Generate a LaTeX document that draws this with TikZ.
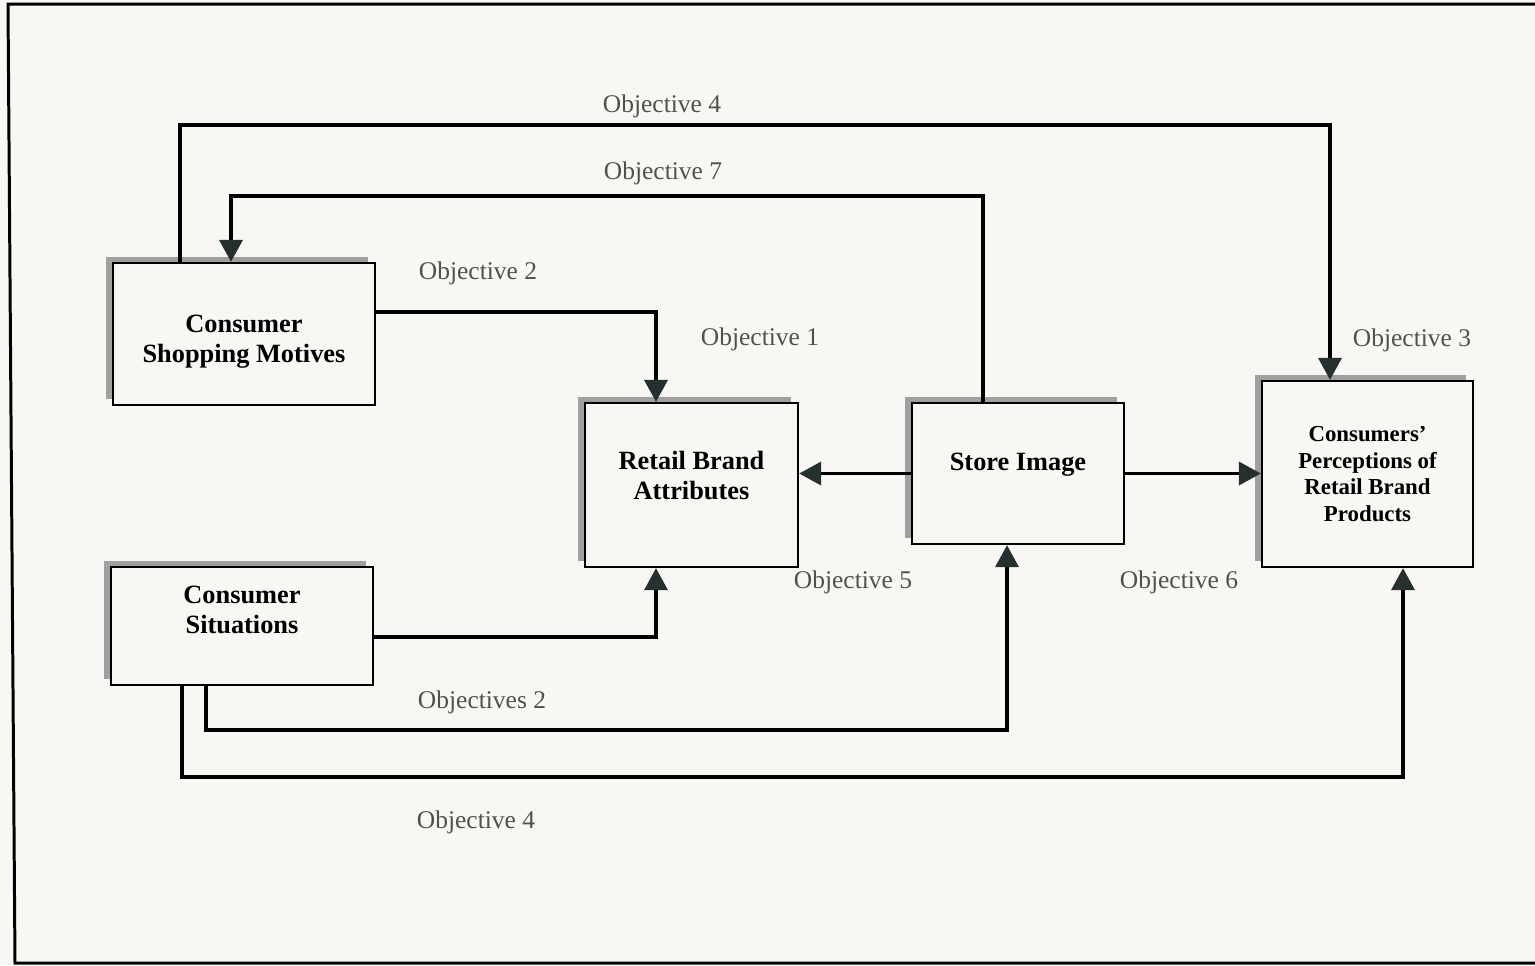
\documentclass[tikz,border=0pt]{standalone}
\usepackage{fontspec}
\setmainfont{Liberation Serif}
\usepackage{tikz}
\usetikzlibrary{arrows.meta,shadows,calc}
\definecolor{paper}{HTML}{F8F7F3}
\definecolor{tipgray}{HTML}{26302F}
\definecolor{shade}{HTML}{A0A0A0}
\definecolor{lblgray}{HTML}{505050}

\begin{document}
\begin{tikzpicture}[
  x=0.02cm, y=-0.02cm,
  font=\fontsize{15pt}{17pt}\selectfont\bfseries,
  >={Triangle[length=4.4mm,width=4.6mm,color=tipgray]},
  box/.style={draw, line width=1.3pt, fill=paper, align=center, inner sep=0pt,
              drop shadow={shadow xshift=-0.14cm, shadow yshift=0.12cm,
                           fill=shade, opacity=1}},
  arr/.style={->, line width=2pt},
  lbl/.style={font=\fontsize{14.5pt}{17pt}\selectfont, text=lblgray},
]
\fill[paper] (0,0) rectangle (1535,965);
\useasboundingbox (0,0) rectangle (1535,965);
\draw[line width=1.7pt] (1560,4) -- (8,4) -- (15,963) -- (1560,963);

\node[box, minimum width=5.24cm, minimum height=2.84cm, text height=35pt, text depth=3pt] (csm) at (244,334)
  {Consumer\\Shopping Motives};
\node[box, minimum width=5.24cm, minimum height=2.36cm, text depth=18pt] (cs) at (242,626)
  {Consumer\\Situations};
\node[box, minimum width=4.26cm, minimum height=3.28cm, text depth=11pt] (rba) at (691.5,485)
  {Retail Brand\\Attributes};
\node[box, minimum width=4.24cm, minimum height=2.82cm, text height=10pt, text depth=14pt] (si) at (1018,473.5)
  {Store Image};
\node[box, minimum width=4.22cm, minimum height=3.72cm,
      font=\fontsize{13pt}{15.3pt}\selectfont\bfseries] (cp) at (1367.5,474)
  {Consumers’\\Perceptions of\\Retail Brand\\Products};

\coordinate (o4a) at (180,125);  \coordinate (o4b) at (1330,125);
\coordinate (o7a) at (983,196);  \coordinate (o7b) at (231,196);
\coordinate (o2a) at (656,312);
\coordinate (s1)  at (656,637);
\coordinate (s2a) at (206,730);  \coordinate (s2b) at (1007,730);
\coordinate (s4a) at (182,777);  \coordinate (s4b) at (1403,777);

\draw[arr] (csm.north -| o4a) -- (o4a) -- (o4b) -- (cp.north -| o4b);
\draw[arr] (si.north -| o7a) -- (o7a) -- (o7b) -- (csm.north -| o7b);
\draw[arr] (csm.east |- o2a) -- (o2a) -- (rba.north -| o2a);
\draw[arr] (si.west) -- (si.west -| rba.east);
\draw[arr] (si.east) -- (si.east -| cp.west);
\draw[arr] (cs.east |- s1) -- (s1) -- (rba.south -| s1);
\draw[arr] (cs.south -| s2a) -- (s2a) -- (s2b) -- (si.south -| s2b);
\draw[arr] (cs.south -| s4a) -- (s4a) -- (s4b) -- (cp.south -| s4b);

\node[lbl] (obj4a) at (662,106) {Objective 4};
\node[lbl] (obj7)  at (663,173) {Objective 7};
\node[lbl] (obj2a) at (478,273) {Objective 2};
\node[lbl] (obj1)  at (760,339) {Objective 1};
\node[lbl] (obj3)  at (1412,340) {Objective 3};
\node[lbl] (obj5)  at (853,582) {Objective 5};
\node[lbl] (obj6)  at (1179,582) {Objective 6};
\node[lbl] (obj2b) at (482,702) {Objectives 2};
\node[lbl] (obj4b) at (476,822) {Objective 4};
\end{tikzpicture}
\end{document}
